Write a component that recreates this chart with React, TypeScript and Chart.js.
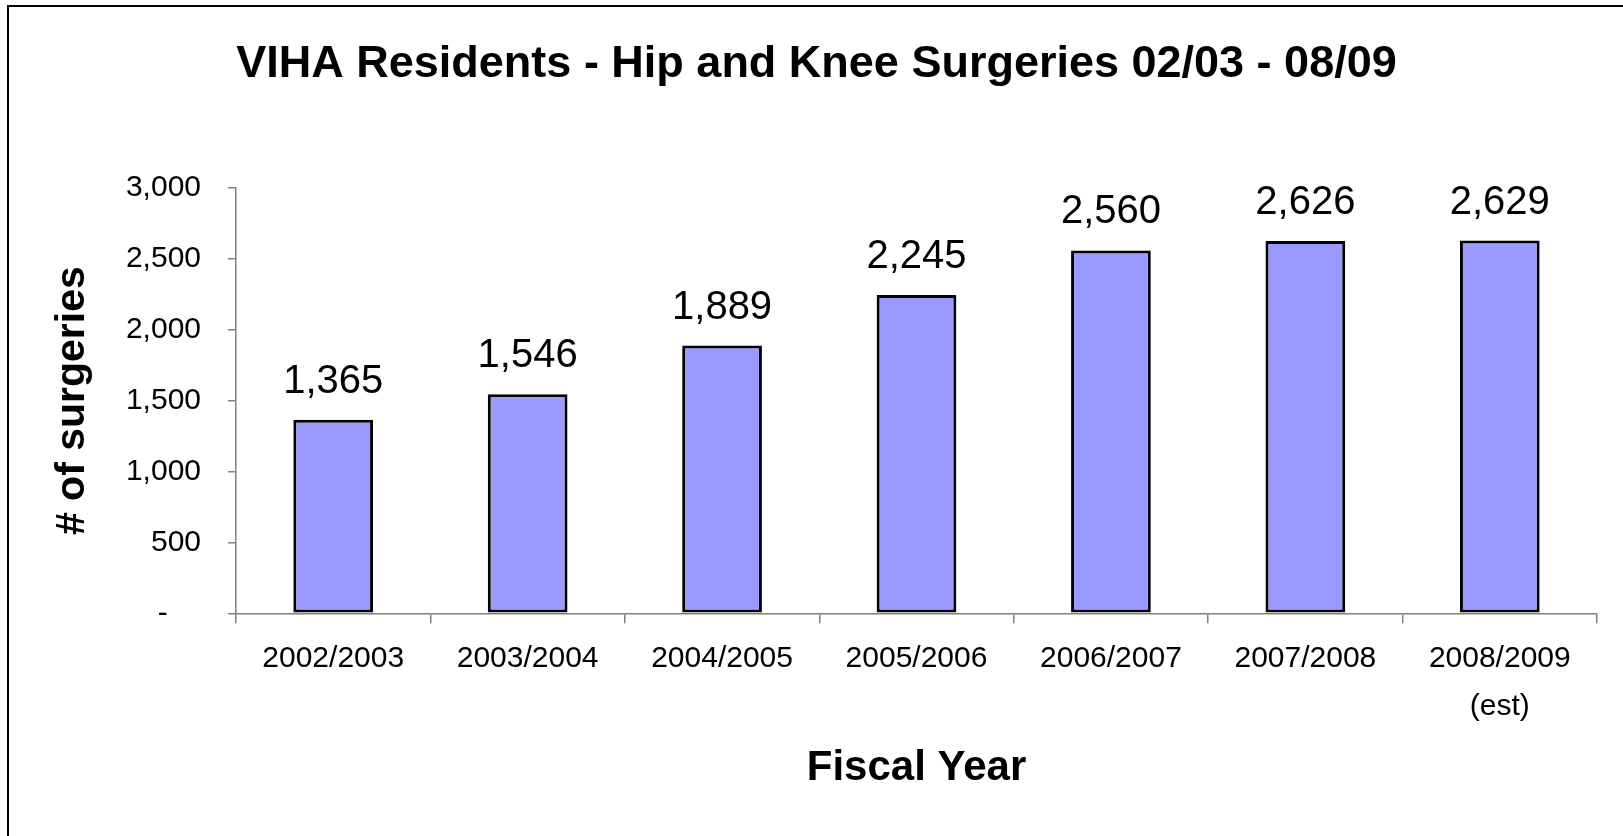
import React, { useEffect, useRef } from 'react';
import { Chart, registerables } from 'chart.js';

Chart.register(...registerables);

// ---- Data ----
const categories: (string | string[])[] = [
  '2002/2003',
  '2003/2004',
  '2004/2005',
  '2005/2006',
  '2006/2007',
  '2007/2008',
  ['2008/2009', '(est)'],
];
const surgeries: number[] = [1365, 1546, 1889, 2245, 2560, 2626, 2629];
const yTickValues: number[] = [0, 500, 1000, 1500, 2000, 2500, 3000];
const chartTitle = 'VIHA Residents - Hip and Knee Surgeries 02/03 - 08/09';
const xAxisTitle = 'Fiscal Year';
const yAxisTitle = '# of surgeries';

const FONT = '"Liberation Sans", Arial, Helvetica, sans-serif';
const W = 1623;
const H = 836;

const fmt = (v: number) => v.toLocaleString('en-US');

const framePlugin = {
  id: 'frame',
  beforeDraw(chart: any) {
    const ctx = chart.ctx;
    ctx.save();
    ctx.fillStyle = '#ffffff';
    ctx.fillRect(0, 0, chart.width, chart.height);
    ctx.strokeStyle = '#000000';
    ctx.lineWidth = 2;
    ctx.beginPath();
    ctx.moveTo(8, chart.height + 5);
    ctx.lineTo(8, 6);
    ctx.lineTo(chart.width + 5, 6);
    ctx.stroke();
    ctx.restore();
  },
};

const valueLabelPlugin = {
  id: 'valueLabels',
  afterDatasetsDraw(chart: any) {
    const ctx = chart.ctx;
    const meta = chart.getDatasetMeta(0);
    const data = chart.data.datasets[0].data as number[];
    ctx.save();
    ctx.font = `40px ${FONT}`;
    ctx.fillStyle = '#000000';
    ctx.textAlign = 'center';
    ctx.textBaseline = 'alphabetic';
    meta.data.forEach((el: any, i: number) => {
      ctx.fillText(fmt(data[i]), el.x, el.y - 27);
    });
    ctx.restore();
  },
};

export default function App() {
  const ref = useRef<HTMLCanvasElement | null>(null);

  useEffect(() => {
    if (!ref.current) return;
    const chart = new Chart(ref.current, {
      type: 'bar',
      data: {
        labels: categories,
        datasets: [
          {
            data: surgeries,
            backgroundColor: '#9999FF',
            borderColor: '#000000',
            borderWidth: 3,
            borderSkipped: false,
            barPercentage: 0.41,
            categoryPercentage: 1,
          },
        ],
      },
      options: {
        responsive: false,
        maintainAspectRatio: false,
        devicePixelRatio: 1,
        animation: false,
        layout: { padding: { left: 36, right: 26, top: 0, bottom: 0 } },
        plugins: {
          legend: { display: false },
          tooltip: { enabled: false },
          title: {
            display: true,
            text: chartTitle,
            color: '#000000',
            font: { family: FONT, size: 45, weight: 'bold', lineHeight: 1.2 },
            padding: { top: 38, bottom: 96 },
          },
        },
        scales: {
          x: {
            offset: true,
            grid: {
              display: true,
              drawOnChartArea: false,
              drawTicks: true,
              tickLength: 10,
              color: '#808080',
              lineWidth: 1.5,
              offset: true,
            },
            border: { display: true, color: '#808080', width: 1.5 },
            ticks: {
              color: '#000000',
              autoSkip: false,
              maxRotation: 0,
              minRotation: 0,
              padding: 11,
              font: { family: FONT, size: 30, lineHeight: 1.6 },
            },
            title: {
              display: true,
              text: xAxisTitle,
              color: '#000000',
              font: { family: FONT, size: 42, weight: 'bold', lineHeight: 1.2 },
              padding: { top: 0, bottom: 42 },
            },
            afterFit(scale: any) {
              scale.height = H - 613.3;
            },
          },
          y: {
            min: 0,
            max: 3000,
            afterBuildTicks(scale: any) {
              scale.ticks = yTickValues.map((v) => ({ value: v }));
            },
            grid: {
              display: true,
              drawOnChartArea: false,
              drawTicks: true,
              tickLength: 8,
              color: '#808080',
              lineWidth: 1.5,
            },
            border: { display: true, color: '#808080', width: 1.5 },
            ticks: {
              color: '#000000',
              padding: 27,
              font: { family: FONT, size: 30 },
              callback: (v: any) => (Number(v) === 0 ? '-    ' : fmt(Number(v))),
            },
            title: {
              display: true,
              text: yAxisTitle,
              color: '#000000',
              font: { family: FONT, size: 41, weight: 'bold', lineHeight: 1.2 },
              padding: { top: 12, bottom: 0 },
            },
            afterFit(scale: any) {
              scale.width = 200;
            },
          },
        },
      },
      plugins: [framePlugin, valueLabelPlugin],
    } as any);
    return () => chart.destroy();
  }, []);

  return (
    <div
      style={{
        position: 'fixed',
        left: 0,
        top: 0,
        width: W,
        height: H,
        overflow: 'hidden',
        background: '#ffffff',
      }}
    >
      <canvas ref={ref} width={W} height={H} style={{ display: 'block', width: W, height: H }} />
    </div>
  );
}
